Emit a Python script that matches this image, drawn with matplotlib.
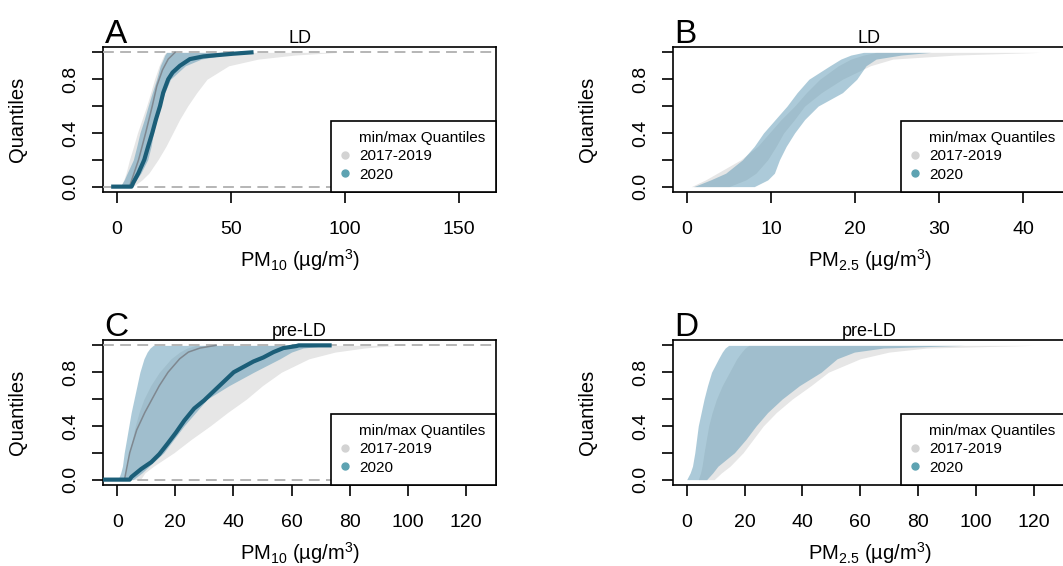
import matplotlib
matplotlib.use("Agg")
import matplotlib.pyplot as plt
from matplotlib.lines import Line2D

plt.rcParams['font.family'] = ['Liberation Sans', 'DejaVu Sans']
plt.rcParams['mathtext.default'] = 'regular'

# ---- quantile levels shared by the min/max envelopes ----
q_env = [0, 0.05, 0.1, 0.2, 0.3, 0.4, 0.5, 0.6, 0.7, 0.8, 0.9, 0.95, 0.98, 1.0]

# A: PM10, lockdown
a_grey_min = [1.5, 3.0, 4.0, 5.5, 7.3, 9.0, 11.0, 13.0, 14.8, 16.5, 18.5, 19.8, 20.6, 21.5]
a_grey_max = [7.0, 11.0, 14.0, 18.0, 21.5, 24.5, 27.5, 31.0, 35.0, 39.5, 49.0, 62.0, 78.0, 97.0]
a_blue_min = [1.5, 3.2, 4.5, 7.2, 8.7, 10.1, 12.0, 13.7, 15.5, 17.4, 19.0, 20.3, 21.0, 21.8]
a_blue_max = [6.5, 8.5, 10.5, 13.5, 15.0, 16.0, 17.5, 19.0, 21.0, 23.5, 30.0, 37.0, 47.0, 59.0]
a_2020_q = [0, 0, 0.03, 0.1, 0.2, 0.3, 0.4, 0.5, 0.6, 0.7, 0.8, 0.85, 0.9, 0.95, 0.97, 0.99, 1.0]
a_2020_x = [-1.6, 6.4, 7.2, 9.4, 12.0, 13.7, 15.5, 17.1, 18.9, 20.3, 22.5, 24.4, 27.6, 32.0, 37.9, 51.0, 59.0]
a_ref_q = [0, 0.2, 0.4, 0.6, 0.75, 0.87, 0.95, 1.0]
a_ref_x = [5.5, 9.5, 12.6, 15.5, 17.5, 20.0, 22.5, 25.5]

# B: PM2.5, lockdown
b_grey_min = [0.5, 2.2, 3.6, 6.4, 8.4, 9.8, 11.2, 12.8, 14.2, 15.8, 18.0, 19.5, 21.0, 22.5]
b_grey_max = [5.0, 7.0, 8.2, 9.6, 10.6, 11.5, 12.8, 14.0, 16.0, 18.5, 21.8, 24.5, 32.0, 42.0]
b_blue_min = [0.8, 2.8, 4.6, 6.6, 8.0, 9.1, 10.5, 11.9, 13.1, 14.5, 17.0, 18.3, 19.5, 21.0]
b_blue_max = [8.0, 9.6, 10.4, 11.0, 11.8, 12.8, 14.0, 15.6, 18.5, 20.2, 21.3, 22.5, 25.5, 29.0]

# C: PM10, pre-lockdown
c_grey_min = [2.5, 3.0, 3.5, 4.2, 5.2, 6.2, 7.5, 9.2, 11.5, 14.5, 18.5, 21.5, 24.0, 27.0]
c_grey_max = [8.0, 9.5, 12.5, 19.5, 25.5, 32.0, 38.0, 44.5, 50.0, 56.5, 66.0, 75.0, 85.0, 96.0]
c_blue_min = [0.3, 1.2, 1.8, 2.4, 3.2, 4.0, 4.8, 5.8, 6.8, 7.8, 9.2, 10.3, 11.3, 12.4]
c_blue_max = [5.5, 8.5, 11.0, 16.0, 19.5, 23.0, 27.0, 31.0, 38.5, 47.0, 56.0, 60.0, 64.0, 73.0]
c_2020_q = [0, 0, 0.02, 0.08, 0.13, 0.19, 0.27, 0.35, 0.44, 0.53, 0.59, 0.66, 0.73, 0.80,
            0.84, 0.88, 0.91, 0.95, 0.98, 0.995, 1.0, 1.0]
c_2020_x = [-6.0, 4.3, 4.9, 8.3, 11.7, 14.5, 17.4, 20.2, 23.1, 26.5, 29.9, 33.3, 36.7, 40.1,
            43.5, 46.9, 50.3, 53.8, 57.2, 61.7, 62.5, 73.1]
c_ref_q = [0, 0.2, 0.37, 0.5, 0.6, 0.7, 0.8, 0.9, 0.95, 0.98, 1.0]
c_ref_x = [2.5, 4.3, 6.7, 9.5, 12.0, 14.5, 17.5, 21.5, 24.5, 28.5, 34.0]

# D: PM2.5, pre-lockdown
d_grey_min = [4.0, 4.8, 5.3, 6.0, 6.8, 7.6, 8.8, 10.3, 12.3, 14.8, 17.3, 19.0, 20.2, 21.5]
d_grey_max = [9.5, 12.0, 15.0, 19.5, 23.0, 26.5, 31.0, 36.5, 43.0, 49.0, 60.0, 70.0, 83.0, 120.0]
d_blue_min = [0.0, 1.2, 2.0, 2.8, 3.4, 4.0, 5.0, 6.0, 7.2, 8.6, 11.0, 12.3, 13.3, 14.5]
d_blue_max = [6.9, 9.0, 10.8, 16.5, 20.5, 24.0, 28.0, 33.0, 39.0, 46.5, 52.0, 58.0, 68.0, 96.0]

legend_labels = ['min/max Quantiles', '2017-2019', '2020']
pm10_label = 'PM$_{10}$ (µg/m$^{3}$)'
pm25_label = 'PM$_{2.5}$ (µg/m$^{3}$)'

GREY = '#e6e6e6'
BLUE = '#619bb6'
DARK = '#1b5e78'
REF = '#7f8890'

W, H = 1063, 566
fig = plt.figure(figsize=(W / 100, H / 100), dpi=100)


def px_axes(left, top, right, bottom):
    return fig.add_axes([left / W, 1 - bottom / H, (right - left) / W, (bottom - top) / H])


def panel(ax, letter, title, xlim, xticks, grey, blue, line=None, ref=None):
    ax.fill_betweenx(q_env, grey[0], grey[1], color=GREY, lw=0, zorder=1)
    ax.fill_betweenx(q_env, blue[0], blue[1], color=BLUE, alpha=0.52, lw=0, zorder=2)
    if line is not None:
        for h in (0, 1):
            ax.axhline(h, color='#b0b0b0', lw=1.3, ls=(0, (6, 3.5)), zorder=3)
        ax.plot(ref[1], ref[0], color=REF, lw=1.1, zorder=4)
        ax.plot(line[1], line[0], color=DARK, lw=3.0, zorder=5, solid_joinstyle='round')
    ax.set_xlim(*xlim)
    ax.set_ylim(-0.04, 1.04)
    ax.set_xticks(xticks)
    ax.set_yticks([0, 0.2, 0.4, 0.6, 0.8, 1.0])
    ax.set_yticklabels(['0.0', '', '0.4', '', '0.8', ''])
    ax.tick_params(axis='both', direction='out', length=8, width=1.2, labelsize=14)
    ax.tick_params(axis='x', pad=13)
    ax.tick_params(axis='y', pad=9)
    plt.setp(ax.get_yticklabels(), rotation=90, va='center')
    for s in ax.spines.values():
        s.set_linewidth(1.2)
    ax.set_title(title, fontsize=13, pad=3)
    ax.text(0.004, 1.028, letter, transform=ax.transAxes, fontsize=24,
            ha='left', va='baseline')
    handles = [Line2D([], [], ls='none'),
               Line2D([], [], ls='none', marker='o', ms=5, color='#d3d3d3'),
               Line2D([], [], ls='none', marker='o', ms=5, color='#5ea3b2')]
    leg = ax.legend(handles, legend_labels, loc='lower right', borderaxespad=0,
                    fontsize=11, fancybox=False, framealpha=1, edgecolor='black',
                    borderpad=0.68, handlelength=0.47, handletextpad=0.68,
                    labelspacing=0.28)
    leg.get_frame().set_linewidth(1.2)
    leg.set_zorder(10)


boxes = {'A': (103, 47, 496, 192), 'B': (673, 47, 1066, 192),
         'C': (103, 340, 496, 485), 'D': (673, 340, 1066, 485)}

axA = px_axes(*boxes['A'])
panel(axA, 'A', 'LD', (-6.1, 166.2), [0, 50, 100, 150],
      (a_grey_min, a_grey_max), (a_blue_min, a_blue_max),
      (a_2020_q, a_2020_x), (a_ref_q, a_ref_x))

axB = px_axes(*boxes['B'])
panel(axB, 'B', 'LD', (-1.67, 45.1), [0, 10, 20, 30, 40],
      (b_grey_min, b_grey_max), (b_blue_min, b_blue_max))

axC = px_axes(*boxes['C'])
panel(axC, 'C', 'pre-LD', (-4.9, 130.4), [0, 20, 40, 60, 80, 100, 120],
      (c_grey_min, c_grey_max), (c_blue_min, c_blue_max),
      (c_2020_q, c_2020_x), (c_ref_q, c_ref_x))

axD = px_axes(*boxes['D'])
panel(axD, 'D', 'pre-LD', (-4.74, 131.2), [0, 20, 40, 60, 80, 100, 120],
      (d_grey_min, d_grey_max), (d_blue_min, d_blue_max))

# axis titles placed in pixel space
for key, xlab in (('A', pm10_label), ('B', pm25_label), ('C', pm10_label), ('D', pm25_label)):
    left, top, right, bottom = boxes[key]
    fig.text((left - 85) / W, 1 - (top + bottom) / 2 / H, 'Quantiles', rotation=90,
             ha='center', va='center', fontsize=14.5)
    fig.text((left + right) / 2 / W, 1 - (bottom + 75) / H, xlab,
             ha='center', va='baseline', fontsize=14.5)

fig.savefig('out.png', dpi=100)
